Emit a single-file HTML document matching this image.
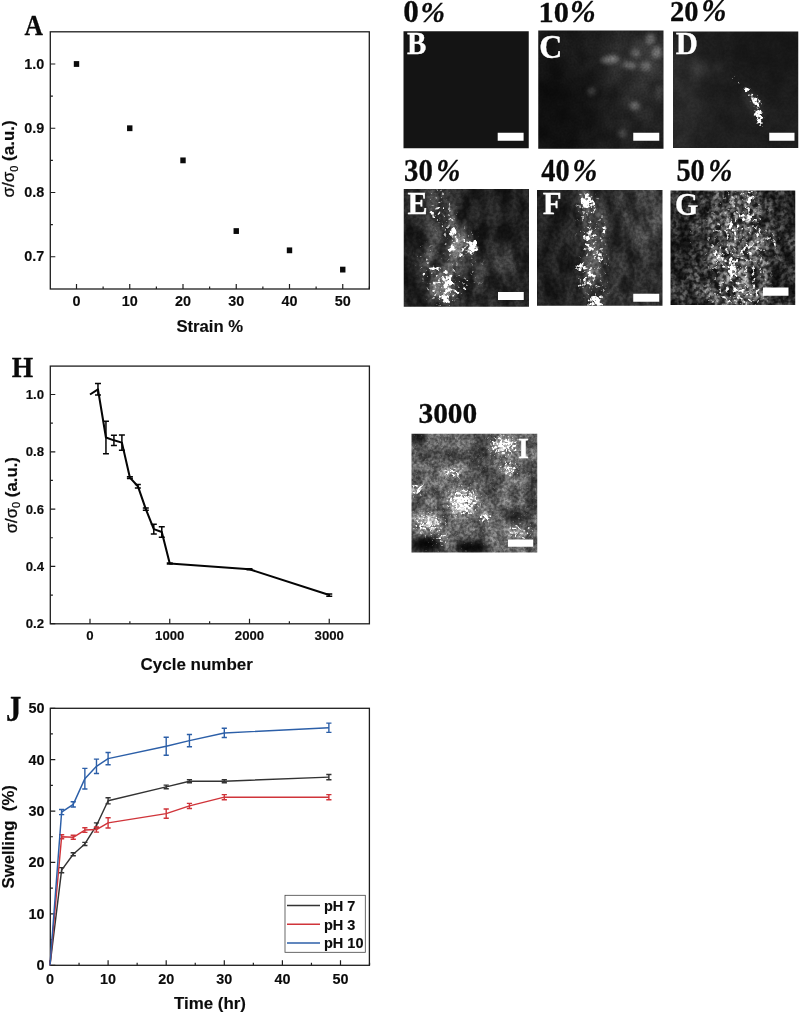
<!DOCTYPE html>
<html lang="en">
<head>
<meta charset="utf-8">
<title>Figure: strain, cycling and swelling</title>
<style>
html,body{margin:0;padding:0;background:#fff;}
body{width:800px;height:1014px;overflow:hidden;font-family:"Liberation Sans", Arial, Helvetica, sans-serif;}
svg{display:block;}
text{white-space:pre;}
</style>
</head>
<body>
<svg width="800" height="1014" viewBox="0 0 800 1014">
<rect width="800" height="1014" fill="#fff"/>
<defs><clipPath id="c1"><rect x="403.5" y="31.3" width="125.25" height="117"/></clipPath>
<clipPath id="c2"><rect x="538.25" y="30.5" width="125.25" height="118.25"/></clipPath>
<filter id="t3" x="0" y="0" width="100%" height="100%" color-interpolation-filters="sRGB"><feTurbulence type="fractalNoise" baseFrequency="0.05" numOctaves="2" seed="3" result="n0"/><feColorMatrix in="n0" type="matrix" values="2.5 0 0 0 -0.75  2.5 0 0 0 -0.75  2.5 0 0 0 -0.75  0 0 0 0 1" result="g0"/><feComposite in="SourceGraphic" in2="g0" operator="arithmetic" k1="0.4" k2="0.8" k3="0" k4="0" result="r0"/><feTurbulence type="fractalNoise" baseFrequency="0.5" numOctaves="2" seed="4" result="n1"/><feColorMatrix in="n1" type="matrix" values="2.5 0 0 0 -0.75  2.5 0 0 0 -0.75  2.5 0 0 0 -0.75  0 0 0 0 1" result="g1"/><feComposite in="r0" in2="g1" operator="arithmetic" k1="0.2" k2="0.9" k3="0" k4="0" result="r1"/></filter>
<filter id="b4" filterUnits="userSpaceOnUse" x="492.25" y="-15.5" width="217.25" height="210.25" color-interpolation-filters="sRGB"><feGaussianBlur stdDeviation="14"/></filter>
<filter id="b5" filterUnits="userSpaceOnUse" x="498.25" y="-9.5" width="205.25" height="198.25" color-interpolation-filters="sRGB"><feGaussianBlur stdDeviation="12"/></filter>
<filter id="b6" filterUnits="userSpaceOnUse" x="486.25" y="-21.5" width="229.25" height="222.25" color-interpolation-filters="sRGB"><feGaussianBlur stdDeviation="16"/></filter>
<filter id="b7" filterUnits="userSpaceOnUse" x="528.25" y="20.5" width="145.25" height="138.25" color-interpolation-filters="sRGB"><feGaussianBlur stdDeviation="2"/></filter>
<filter id="b8" filterUnits="userSpaceOnUse" x="527.65" y="19.9" width="146.45" height="139.45" color-interpolation-filters="sRGB"><feGaussianBlur stdDeviation="2.2"/></filter>
<filter id="b9" filterUnits="userSpaceOnUse" x="526.75" y="19" width="148.25" height="141.25" color-interpolation-filters="sRGB"><feGaussianBlur stdDeviation="2.5"/></filter>
<clipPath id="c10"><rect x="673" y="31.5" width="125.25" height="116.5"/></clipPath>
<filter id="t11" x="0" y="0" width="100%" height="100%" color-interpolation-filters="sRGB"><feTurbulence type="fractalNoise" baseFrequency="0.06" numOctaves="3" seed="4" result="n0"/><feColorMatrix in="n0" type="matrix" values="2.5 0 0 0 -0.75  2.5 0 0 0 -0.75  2.5 0 0 0 -0.75  0 0 0 0 1" result="g0"/><feComposite in="SourceGraphic" in2="g0" operator="arithmetic" k1="0.2" k2="0.9" k3="0" k4="0" result="r0"/><feTurbulence type="fractalNoise" baseFrequency="0.4" numOctaves="2" seed="5" result="n1"/><feColorMatrix in="n1" type="matrix" values="3 0 0 0 -1  3 0 0 0 -1  3 0 0 0 -1  0 0 0 0 1" result="g1"/><feComposite in="r0" in2="g1" operator="arithmetic" k1="0.12" k2="0.94" k3="0" k4="0" result="r1"/><feGaussianBlur in="r1" stdDeviation="0.45"/></filter>
<filter id="b12" filterUnits="userSpaceOnUse" x="633" y="-8.5" width="205.25" height="196.5" color-interpolation-filters="sRGB"><feGaussianBlur stdDeviation="12"/></filter>
<filter id="b13" filterUnits="userSpaceOnUse" x="657" y="15.5" width="157.25" height="148.5" color-interpolation-filters="sRGB"><feGaussianBlur stdDeviation="4"/></filter>
<filter id="b14" filterUnits="userSpaceOnUse" x="660" y="18.5" width="151.25" height="142.5" color-interpolation-filters="sRGB"><feGaussianBlur stdDeviation="3"/></filter>
<filter id="b15" filterUnits="userSpaceOnUse" x="639" y="-2.5" width="193.25" height="184.5" color-interpolation-filters="sRGB"><feGaussianBlur stdDeviation="10"/></filter>
<filter id="s16" x="0" y="0" width="100%" height="100%" color-interpolation-filters="sRGB"><feTurbulence type="fractalNoise" baseFrequency="0.35" numOctaves="3" seed="5" result="n"/><feColorMatrix in="n" type="matrix" values="0 0 0 0 1  0 0 0 0 1  0 0 0 0 1  2.0 0 0 0 -0.5" result="na"/><feComposite in="SourceGraphic" in2="na" operator="arithmetic" k1="0" k2="2.2" k3="2.2" k4="-2.2" result="r"/><feGaussianBlur in="r" stdDeviation="0.6"/></filter>
<filter id="b17" filterUnits="userSpaceOnUse" x="664.5" y="23" width="142.25" height="133.5" color-interpolation-filters="sRGB"><feGaussianBlur stdDeviation="1.5"/></filter>
<filter id="b18" filterUnits="userSpaceOnUse" x="664.2" y="22.7" width="142.85" height="134.1" color-interpolation-filters="sRGB"><feGaussianBlur stdDeviation="1.6"/></filter>
<filter id="b19" filterUnits="userSpaceOnUse" x="665.4" y="23.9" width="140.45" height="131.7" color-interpolation-filters="sRGB"><feGaussianBlur stdDeviation="1.2"/></filter>
<filter id="b20" filterUnits="userSpaceOnUse" x="666" y="24.5" width="139.25" height="130.5" color-interpolation-filters="sRGB"><feGaussianBlur stdDeviation="1"/></filter>
<clipPath id="c21"><rect x="403.75" y="189.1" width="125.25" height="117.65"/></clipPath>
<filter id="t22" x="0" y="0" width="100%" height="100%" color-interpolation-filters="sRGB"><feTurbulence type="fractalNoise" baseFrequency="0.08 0.04" numOctaves="3" seed="7" result="n0"/><feColorMatrix in="n0" type="matrix" values="2.4 0 0 0 -0.7  2.4 0 0 0 -0.7  2.4 0 0 0 -0.7  0 0 0 0 1" result="g0"/><feComposite in="SourceGraphic" in2="g0" operator="arithmetic" k1="0.9" k2="0.55" k3="0" k4="0" result="r0"/><feTurbulence type="fractalNoise" baseFrequency="0.3" numOctaves="2" seed="8" result="n1"/><feColorMatrix in="n1" type="matrix" values="3 0 0 0 -1  3 0 0 0 -1  3 0 0 0 -1  0 0 0 0 1" result="g1"/><feComposite in="r0" in2="g1" operator="arithmetic" k1="0.35" k2="0.82" k3="0" k4="0" result="r1"/><feGaussianBlur in="r1" stdDeviation="0.45"/></filter>
<filter id="b23" filterUnits="userSpaceOnUse" x="369.75" y="155.1" width="193.25" height="185.65" color-interpolation-filters="sRGB"><feGaussianBlur stdDeviation="10"/></filter>
<filter id="b24" filterUnits="userSpaceOnUse" x="375.75" y="161.1" width="181.25" height="173.65" color-interpolation-filters="sRGB"><feGaussianBlur stdDeviation="8"/></filter>
<filter id="b25" filterUnits="userSpaceOnUse" x="372.75" y="158.1" width="187.25" height="179.65" color-interpolation-filters="sRGB"><feGaussianBlur stdDeviation="9"/></filter>
<filter id="b26" filterUnits="userSpaceOnUse" x="387.75" y="173.1" width="157.25" height="149.65" color-interpolation-filters="sRGB"><feGaussianBlur stdDeviation="4"/></filter>
<filter id="b27" filterUnits="userSpaceOnUse" x="384.75" y="170.1" width="163.25" height="155.65" color-interpolation-filters="sRGB"><feGaussianBlur stdDeviation="5"/></filter>
<filter id="s28" x="0" y="0" width="100%" height="100%" color-interpolation-filters="sRGB"><feTurbulence type="fractalNoise" baseFrequency="0.27" numOctaves="3" seed="8" result="n"/><feColorMatrix in="n" type="matrix" values="0 0 0 0 1  0 0 0 0 1  0 0 0 0 1  2.0 0 0 0 -0.5" result="na"/><feComposite in="SourceGraphic" in2="na" operator="arithmetic" k1="0" k2="3" k3="3" k4="-3" result="r"/><feGaussianBlur in="r" stdDeviation="0.6"/></filter>
<filter id="b29" filterUnits="userSpaceOnUse" x="395.25" y="180.6" width="142.25" height="134.65" color-interpolation-filters="sRGB"><feGaussianBlur stdDeviation="1.5"/></filter>
<filter id="b30" filterUnits="userSpaceOnUse" x="394.35" y="179.7" width="144.05" height="136.45" color-interpolation-filters="sRGB"><feGaussianBlur stdDeviation="1.8"/></filter>
<filter id="b31" filterUnits="userSpaceOnUse" x="396.15" y="181.5" width="140.45" height="132.85" color-interpolation-filters="sRGB"><feGaussianBlur stdDeviation="1.2"/></filter>
<filter id="b32" filterUnits="userSpaceOnUse" x="393.75" y="179.1" width="145.25" height="137.65" color-interpolation-filters="sRGB"><feGaussianBlur stdDeviation="2"/></filter>
<filter id="b33" filterUnits="userSpaceOnUse" x="397.35" y="182.7" width="138.05" height="130.45" color-interpolation-filters="sRGB"><feGaussianBlur stdDeviation="0.8"/></filter>
<clipPath id="c34"><rect x="537" y="190" width="125.5" height="115.75"/></clipPath>
<filter id="t35" x="0" y="0" width="100%" height="100%" color-interpolation-filters="sRGB"><feTurbulence type="fractalNoise" baseFrequency="0.08 0.04" numOctaves="3" seed="21" result="n0"/><feColorMatrix in="n0" type="matrix" values="2.4 0 0 0 -0.7  2.4 0 0 0 -0.7  2.4 0 0 0 -0.7  0 0 0 0 1" result="g0"/><feComposite in="SourceGraphic" in2="g0" operator="arithmetic" k1="0.8" k2="0.6" k3="0" k4="0" result="r0"/><feTurbulence type="fractalNoise" baseFrequency="0.3" numOctaves="2" seed="22" result="n1"/><feColorMatrix in="n1" type="matrix" values="3 0 0 0 -1  3 0 0 0 -1  3 0 0 0 -1  0 0 0 0 1" result="g1"/><feComposite in="r0" in2="g1" operator="arithmetic" k1="0.35" k2="0.82" k3="0" k4="0" result="r1"/><feGaussianBlur in="r1" stdDeviation="0.45"/></filter>
<filter id="b36" filterUnits="userSpaceOnUse" x="506" y="159" width="187.5" height="177.75" color-interpolation-filters="sRGB"><feGaussianBlur stdDeviation="9"/></filter>
<filter id="b37" filterUnits="userSpaceOnUse" x="503" y="156" width="193.5" height="183.75" color-interpolation-filters="sRGB"><feGaussianBlur stdDeviation="10"/></filter>
<filter id="b38" filterUnits="userSpaceOnUse" x="515" y="168" width="169.5" height="159.75" color-interpolation-filters="sRGB"><feGaussianBlur stdDeviation="6"/></filter>
<filter id="b39" filterUnits="userSpaceOnUse" x="521" y="174" width="157.5" height="147.75" color-interpolation-filters="sRGB"><feGaussianBlur stdDeviation="4"/></filter>
<filter id="s40" x="0" y="0" width="100%" height="100%" color-interpolation-filters="sRGB"><feTurbulence type="fractalNoise" baseFrequency="0.27" numOctaves="3" seed="22" result="n"/><feColorMatrix in="n" type="matrix" values="0 0 0 0 1  0 0 0 0 1  0 0 0 0 1  2.0 0 0 0 -0.5" result="na"/><feComposite in="SourceGraphic" in2="na" operator="arithmetic" k1="0" k2="3" k3="3" k4="-3" result="r"/><feGaussianBlur in="r" stdDeviation="0.6"/></filter>
<filter id="b41" filterUnits="userSpaceOnUse" x="518" y="171" width="163.5" height="153.75" color-interpolation-filters="sRGB"><feGaussianBlur stdDeviation="5"/></filter>
<filter id="b42" filterUnits="userSpaceOnUse" x="526.4" y="179.4" width="146.7" height="136.95" color-interpolation-filters="sRGB"><feGaussianBlur stdDeviation="2.2"/></filter>
<filter id="b43" filterUnits="userSpaceOnUse" x="527.6" y="180.6" width="144.3" height="134.55" color-interpolation-filters="sRGB"><feGaussianBlur stdDeviation="1.8"/></filter>
<filter id="b44" filterUnits="userSpaceOnUse" x="528.2" y="181.2" width="143.1" height="133.35" color-interpolation-filters="sRGB"><feGaussianBlur stdDeviation="1.6"/></filter>
<filter id="b45" filterUnits="userSpaceOnUse" x="529.4" y="182.4" width="140.7" height="130.95" color-interpolation-filters="sRGB"><feGaussianBlur stdDeviation="1.2"/></filter>
<filter id="b46" filterUnits="userSpaceOnUse" x="528.8" y="181.8" width="141.9" height="132.15" color-interpolation-filters="sRGB"><feGaussianBlur stdDeviation="1.4"/></filter>
<filter id="b47" filterUnits="userSpaceOnUse" x="527" y="180" width="145.5" height="135.75" color-interpolation-filters="sRGB"><feGaussianBlur stdDeviation="2"/></filter>
<clipPath id="c48"><rect x="670.5" y="190.5" width="124.75" height="114.5"/></clipPath>
<filter id="t49" x="0" y="0" width="100%" height="100%" color-interpolation-filters="sRGB"><feTurbulence type="fractalNoise" baseFrequency="0.1 0.06" numOctaves="3" seed="41" result="n0"/><feColorMatrix in="n0" type="matrix" values="2.5 0 0 0 -0.75  2.5 0 0 0 -0.75  2.5 0 0 0 -0.75  0 0 0 0 1" result="g0"/><feComposite in="SourceGraphic" in2="g0" operator="arithmetic" k1="1.1" k2="0.45" k3="0" k4="0" result="r0"/><feTurbulence type="fractalNoise" baseFrequency="0.26" numOctaves="2" seed="42" result="n1"/><feColorMatrix in="n1" type="matrix" values="3 0 0 0 -1  3 0 0 0 -1  3 0 0 0 -1  0 0 0 0 1" result="g1"/><feComposite in="r0" in2="g1" operator="arithmetic" k1="1" k2="0.5" k3="0" k4="0" result="r1"/><feGaussianBlur in="r1" stdDeviation="0.45"/></filter>
<filter id="b50" filterUnits="userSpaceOnUse" x="642.5" y="162.5" width="180.75" height="170.5" color-interpolation-filters="sRGB"><feGaussianBlur stdDeviation="8"/></filter>
<filter id="b51" filterUnits="userSpaceOnUse" x="648.5" y="168.5" width="168.75" height="158.5" color-interpolation-filters="sRGB"><feGaussianBlur stdDeviation="6"/></filter>
<filter id="b52" filterUnits="userSpaceOnUse" x="639.5" y="159.5" width="186.75" height="176.5" color-interpolation-filters="sRGB"><feGaussianBlur stdDeviation="9"/></filter>
<filter id="s53" x="0" y="0" width="100%" height="100%" color-interpolation-filters="sRGB"><feTurbulence type="fractalNoise" baseFrequency="0.27" numOctaves="3" seed="43" result="n"/><feColorMatrix in="n" type="matrix" values="0 0 0 0 1  0 0 0 0 1  0 0 0 0 1  2.0 0 0 0 -0.5" result="na"/><feComposite in="SourceGraphic" in2="na" operator="arithmetic" k1="0" k2="3" k3="3" k4="-3" result="r"/><feGaussianBlur in="r" stdDeviation="0.6"/></filter>
<filter id="b54" filterUnits="userSpaceOnUse" x="651.5" y="171.5" width="162.75" height="152.5" color-interpolation-filters="sRGB"><feGaussianBlur stdDeviation="5"/></filter>
<filter id="b55" filterUnits="userSpaceOnUse" x="660.5" y="180.5" width="144.75" height="134.5" color-interpolation-filters="sRGB"><feGaussianBlur stdDeviation="2"/></filter>
<filter id="b56" filterUnits="userSpaceOnUse" x="659.9" y="179.9" width="145.95" height="135.7" color-interpolation-filters="sRGB"><feGaussianBlur stdDeviation="2.2"/></filter>
<filter id="b57" filterUnits="userSpaceOnUse" x="661.1" y="181.1" width="143.55" height="133.3" color-interpolation-filters="sRGB"><feGaussianBlur stdDeviation="1.8"/></filter>
<filter id="b58" filterUnits="userSpaceOnUse" x="659" y="179" width="147.75" height="137.5" color-interpolation-filters="sRGB"><feGaussianBlur stdDeviation="2.5"/></filter>
<filter id="b59" filterUnits="userSpaceOnUse" x="662.9" y="182.9" width="139.95" height="129.7" color-interpolation-filters="sRGB"><feGaussianBlur stdDeviation="1.2"/></filter>
<filter id="b60" filterUnits="userSpaceOnUse" x="662" y="182" width="141.75" height="131.5" color-interpolation-filters="sRGB"><feGaussianBlur stdDeviation="1.5"/></filter>
<clipPath id="c61"><rect x="411.5" y="433.75" width="125.75" height="118.75"/></clipPath>
<filter id="t62" x="0" y="0" width="100%" height="100%" color-interpolation-filters="sRGB"><feTurbulence type="fractalNoise" baseFrequency="0.08" numOctaves="3" seed="61" result="n0"/><feColorMatrix in="n0" type="matrix" values="2.5 0 0 0 -0.75  2.5 0 0 0 -0.75  2.5 0 0 0 -0.75  0 0 0 0 1" result="g0"/><feComposite in="SourceGraphic" in2="g0" operator="arithmetic" k1="0.6" k2="0.7" k3="0" k4="0" result="r0"/><feTurbulence type="fractalNoise" baseFrequency="0.35" numOctaves="2" seed="62" result="n1"/><feColorMatrix in="n1" type="matrix" values="2.5 0 0 0 -0.75  2.5 0 0 0 -0.75  2.5 0 0 0 -0.75  0 0 0 0 1" result="g1"/><feComposite in="r0" in2="g1" operator="arithmetic" k1="0.5" k2="0.75" k3="0" k4="0" result="r1"/><feGaussianBlur in="r1" stdDeviation="0.45"/></filter>
<filter id="b63" filterUnits="userSpaceOnUse" x="398.5" y="420.75" width="151.75" height="144.75" color-interpolation-filters="sRGB"><feGaussianBlur stdDeviation="3"/></filter>
<filter id="b64" filterUnits="userSpaceOnUse" x="392.5" y="414.75" width="163.75" height="156.75" color-interpolation-filters="sRGB"><feGaussianBlur stdDeviation="5"/></filter>
<filter id="b65" filterUnits="userSpaceOnUse" x="397" y="419.25" width="154.75" height="147.75" color-interpolation-filters="sRGB"><feGaussianBlur stdDeviation="3.5"/></filter>
<filter id="b66" filterUnits="userSpaceOnUse" x="395.5" y="417.75" width="157.75" height="150.75" color-interpolation-filters="sRGB"><feGaussianBlur stdDeviation="4"/></filter>
<filter id="s67" x="0" y="0" width="100%" height="100%" color-interpolation-filters="sRGB"><feTurbulence type="fractalNoise" baseFrequency="0.4" numOctaves="3" seed="63" result="n"/><feColorMatrix in="n" type="matrix" values="0 0 0 0 1  0 0 0 0 1  0 0 0 0 1  2.0 0 0 0 -0.5" result="na"/><feComposite in="SourceGraphic" in2="na" operator="arithmetic" k1="0" k2="3" k3="3" k4="-2.85" result="r"/><feGaussianBlur in="r" stdDeviation="0.6"/></filter>
<filter id="b68" filterUnits="userSpaceOnUse" x="400" y="422.25" width="148.75" height="141.75" color-interpolation-filters="sRGB"><feGaussianBlur stdDeviation="2.5"/></filter></defs>
<rect x="50.3" y="31.8" width="319" height="257.2" fill="none" stroke="#1e1e1e" stroke-width="1.3"/>
<path d="M76.5 289v-5M129.75 289v-5M183 289v-5M236.25 289v-5M289.5 289v-5M342.75 289v-5M103.12 289v-2.6M156.38 289v-2.6M209.62 289v-2.6M262.88 289v-2.6M316.12 289v-2.6M369.38 289v-2.6M50.3 256.75h5M50.3 192.5h5M50.3 128.25h5M50.3 64h5M50.3 224.62h2.6M50.3 160.38h2.6M50.3 96.13h2.6" fill="none" stroke="#1e1e1e" stroke-width="1.2"/>
<g font-family='"Liberation Sans", Arial, Helvetica, sans-serif' font-weight="700" font-size="14.4" fill="#0c0c0c" stroke="#0c0c0c" stroke-width="0.14">
<text x="76.5" y="306" text-anchor="middle">0</text>
<text x="129.75" y="306" text-anchor="middle">10</text>
<text x="183" y="306" text-anchor="middle">20</text>
<text x="236.25" y="306" text-anchor="middle">30</text>
<text x="289.5" y="306" text-anchor="middle">40</text>
<text x="342.75" y="306" text-anchor="middle">50</text>
<text x="44.3" y="261.35" text-anchor="end">0.7</text>
<text x="44.3" y="197.1" text-anchor="end">0.8</text>
<text x="44.3" y="132.85" text-anchor="end">0.9</text>
<text x="44.3" y="68.6" text-anchor="end">1.0</text>
</g>
<text x="209.8" y="332.3" text-anchor="middle" font-family='"Liberation Sans", Arial, Helvetica, sans-serif' font-weight="700" font-size="16.7" fill="#0c0c0c" stroke="#0c0c0c" stroke-width="0.14">Strain %</text>
<text transform="translate(14.3 158.9) rotate(-90)" text-anchor="middle" font-family='"Liberation Sans", Arial, Helvetica, sans-serif' font-weight="700" font-size="17" fill="#0c0c0c" stroke="#0c0c0c" stroke-width="0.14"><tspan font-weight="400" stroke-width="0.3">σ/σ</tspan><tspan font-weight="400" font-size="11" dy="3.5" stroke-width="0.25">0</tspan><tspan dy="-3.5"> (a.u.)</tspan></text>
<rect x="73.8" y="61.1" width="5.4" height="5.8" fill="#0a0a0a"/>
<rect x="127.05" y="125.35" width="5.4" height="5.8" fill="#0a0a0a"/>
<rect x="180.3" y="157.47" width="5.4" height="5.8" fill="#0a0a0a"/>
<rect x="233.55" y="228.15" width="5.4" height="5.8" fill="#0a0a0a"/>
<rect x="286.8" y="247.43" width="5.4" height="5.8" fill="#0a0a0a"/>
<rect x="340.05" y="266.7" width="5.4" height="5.8" fill="#0a0a0a"/>
<text transform="translate(24.49 35.25) scale(0.851 0.985)" font-family='"Liberation Serif", "Times New Roman", serif' font-weight="700" font-size="30" fill="#0a0a0a" stroke="#0a0a0a" stroke-width="0.3" stroke-linejoin="round">A</text>
<rect x="50.3" y="366.1" width="319.1" height="257.7" fill="none" stroke="#1e1e1e" stroke-width="1.3"/>
<path d="M90 623.8v-5M169.75 623.8v-5M249.5 623.8v-5M329.25 623.8v-5M129.88 623.8v-2.6M209.62 623.8v-2.6M289.38 623.8v-2.6M50.3 623.7h5M50.3 566.4h5M50.3 509.1h5M50.3 451.8h5M50.3 394.5h5M50.3 595.05h2.6M50.3 537.75h2.6M50.3 480.45h2.6M50.3 423.15h2.6" fill="none" stroke="#1e1e1e" stroke-width="1.2"/>
<g font-family='"Liberation Sans", Arial, Helvetica, sans-serif' font-weight="700" font-size="13.2" fill="#0c0c0c" stroke="#0c0c0c" stroke-width="0.14">
<text x="90" y="639.9" text-anchor="middle">0</text>
<text x="169.75" y="639.9" text-anchor="middle">1000</text>
<text x="249.5" y="639.9" text-anchor="middle">2000</text>
<text x="329.25" y="639.9" text-anchor="middle">3000</text>
<text x="44.1" y="628.3" text-anchor="end">0.2</text>
<text x="44.1" y="571" text-anchor="end">0.4</text>
<text x="44.1" y="513.7" text-anchor="end">0.6</text>
<text x="44.1" y="456.4" text-anchor="end">0.8</text>
<text x="44.1" y="399.1" text-anchor="end">1.0</text>
</g>
<text x="196.7" y="670.3" text-anchor="middle" font-family='"Liberation Sans", Arial, Helvetica, sans-serif' font-weight="700" font-size="17.0" fill="#0c0c0c" stroke="#0c0c0c" stroke-width="0.14">Cycle number</text>
<text transform="translate(16.5 495.2) rotate(-90)" text-anchor="middle" font-family='"Liberation Sans", Arial, Helvetica, sans-serif' font-weight="700" font-size="16.8" fill="#0c0c0c" stroke="#0c0c0c" stroke-width="0.14"><tspan font-weight="400" stroke-width="0.3">σ/σ</tspan><tspan font-weight="400" font-size="11" dy="3.5" stroke-width="0.25">0</tspan><tspan dy="-3.5"> (a.u.)</tspan></text>
<polyline points="90,394.5 97.97,389.34 105.95,437.48 113.92,440.34 121.9,442.63 129.88,477.59 137.85,486.18 145.82,509.1 153.8,529.15 161.78,532.02 169.75,563.54 249.5,569.26 329.25,595.05" fill="none" stroke="#050505" stroke-width="2.05" stroke-linejoin="round"/>
<path d="M97.97 383.61V395.07M94.97 383.61h6M94.97 395.07h6M105.95 421.14V453.81M102.95 421.14h6M102.95 453.81h6M113.92 435.18V445.5M110.92 435.18h6M110.92 445.5h6M121.9 434.9V450.37M118.9 434.9h6M118.9 450.37h6M129.88 476.73V478.44M126.88 476.73h6M126.88 478.44h6M137.85 484.46V487.9M134.85 484.46h6M134.85 487.9h6M145.82 507.95V510.25M142.82 507.95h6M142.82 510.25h6M153.8 524.28V534.03M150.8 524.28h6M150.8 534.03h6M161.78 526.86V537.18M158.78 526.86h6M158.78 537.18h6M169.75 562.96V564.11M166.75 562.96h6M166.75 564.11h6M249.5 568.69V569.84M246.5 568.69h6M246.5 569.84h6M329.25 593.9V596.2M326.25 593.9h6M326.25 596.2h6" fill="none" stroke="#050505" stroke-width="1.5"/>
<text transform="translate(11.78 377.1) scale(0.918 0.977)" font-family='"Liberation Serif", "Times New Roman", serif' font-weight="700" font-size="30" fill="#0a0a0a" stroke="#0a0a0a" stroke-width="0.3" stroke-linejoin="round">H</text>
<rect x="50.3" y="708.3" width="319.1" height="257" fill="none" stroke="#1e1e1e" stroke-width="1.3"/>
<path d="M50 965.3v-5M108.1 965.3v-5M166.2 965.3v-5M224.3 965.3v-5M282.4 965.3v-5M340.5 965.3v-5M79.05 965.3v-2.6M137.15 965.3v-2.6M195.25 965.3v-2.6M253.35 965.3v-2.6M311.45 965.3v-2.6M369.55 965.3v-2.6M50.3 965.25h5M50.3 913.85h5M50.3 862.45h5M50.3 811.05h5M50.3 759.65h5M50.3 708.25h5M50.3 939.55h2.6M50.3 888.15h2.6M50.3 836.75h2.6M50.3 785.35h2.6M50.3 733.95h2.6" fill="none" stroke="#1e1e1e" stroke-width="1.2"/>
<g font-family='"Liberation Sans", Arial, Helvetica, sans-serif' font-weight="700" font-size="14.4" fill="#0c0c0c" stroke="#0c0c0c" stroke-width="0.14">
<text x="50" y="983.5" text-anchor="middle">0</text>
<text x="108.1" y="983.5" text-anchor="middle">10</text>
<text x="166.2" y="983.5" text-anchor="middle">20</text>
<text x="224.3" y="983.5" text-anchor="middle">30</text>
<text x="282.4" y="983.5" text-anchor="middle">40</text>
<text x="340.5" y="983.5" text-anchor="middle">50</text>
<text x="44.6" y="970.25" text-anchor="end">0</text>
<text x="44.6" y="918.85" text-anchor="end">10</text>
<text x="44.6" y="867.45" text-anchor="end">20</text>
<text x="44.6" y="816.05" text-anchor="end">30</text>
<text x="44.6" y="764.65" text-anchor="end">40</text>
<text x="44.6" y="713.25" text-anchor="end">50</text>
</g>
<text x="210" y="1008.6" text-anchor="middle" font-family='"Liberation Sans", Arial, Helvetica, sans-serif' font-weight="700" font-size="16.9" fill="#0c0c0c" stroke="#0c0c0c" stroke-width="0.14">Time (hr)</text>
<text transform="translate(13.6 836.8) rotate(-90)" text-anchor="middle" font-family='"Liberation Sans", Arial, Helvetica, sans-serif' font-weight="700" font-size="16.8" fill="#0c0c0c" stroke="#0c0c0c" stroke-width="0.14">Swelling&#160; (%)</text>
<polyline points="50,965.25 61.62,870.16 73.24,854.23 84.86,843.95 96.48,825.44 108.1,800.77 166.2,786.89 189.44,781.24 224.3,781.24 328.88,777.13" fill="none" stroke="#333333" stroke-width="1.45" stroke-linejoin="round"/>
<path d="M61.62 867.59V872.73M59.02 867.59h5.2M59.02 872.73h5.2M73.24 852.68V855.77M70.64 852.68h5.2M70.64 855.77h5.2M84.86 842.4V845.49M82.26 842.4h5.2M82.26 845.49h5.2M96.48 822.87V828.01M93.88 822.87h5.2M93.88 828.01h5.2M108.1 797.69V803.85M105.5 797.69h5.2M105.5 803.85h5.2M166.2 785.09V788.69M163.6 785.09h5.2M163.6 788.69h5.2M189.44 779.7V782.78M186.84 779.7h5.2M186.84 782.78h5.2M224.3 779.7V782.78M221.7 779.7h5.2M221.7 782.78h5.2M328.88 774.56V779.7M326.28 774.56h5.2M326.28 779.7h5.2" fill="none" stroke="#333333" stroke-width="1.4"/>
<polyline points="50,965.25 61.62,836.75 73.24,837.26 84.86,830.07 96.48,829.55 108.1,822.87 166.2,813.62 189.44,805.91 224.3,797.17 328.88,797.17" fill="none" stroke="#d0343a" stroke-width="1.45" stroke-linejoin="round"/>
<path d="M61.62 834.69V838.81M59.02 834.69h5.2M59.02 838.81h5.2M73.24 835.21V839.32M70.64 835.21h5.2M70.64 839.32h5.2M84.86 827.75V832.38M82.26 827.75h5.2M82.26 832.38h5.2M96.48 826.98V832.12M93.88 826.98h5.2M93.88 832.12h5.2M108.1 817.73V828.01M105.5 817.73h5.2M105.5 828.01h5.2M166.2 808.99V818.25M163.6 808.99h5.2M163.6 818.25h5.2M189.44 803.34V808.48M186.84 803.34h5.2M186.84 808.48h5.2M224.3 794.6V799.74M221.7 794.6h5.2M221.7 799.74h5.2M328.88 794.6V799.74M326.28 794.6h5.2M326.28 799.74h5.2" fill="none" stroke="#d0343a" stroke-width="1.4"/>
<polyline points="50,965.25 61.62,812.08 73.24,804.37 84.86,778.67 96.48,766.33 108.1,758.62 166.2,746.29 189.44,740.63 224.3,732.92 328.88,727.78" fill="none" stroke="#2c5fa8" stroke-width="1.45" stroke-linejoin="round"/>
<path d="M61.62 809.51V814.65M59.02 809.51h5.2M59.02 814.65h5.2M73.24 801.8V806.94M70.64 801.8h5.2M70.64 806.94h5.2M84.86 768.39V788.95M82.26 768.39h5.2M82.26 788.95h5.2M96.48 759.14V773.53M93.88 759.14h5.2M93.88 773.53h5.2M108.1 752.45V764.79M105.5 752.45h5.2M105.5 764.79h5.2M166.2 737.29V755.28M163.6 737.29h5.2M163.6 755.28h5.2M189.44 734.46V746.8M186.84 734.46h5.2M186.84 746.8h5.2M224.3 728.3V737.55M221.7 728.3h5.2M221.7 737.55h5.2M328.88 723.16V732.41M326.28 723.16h5.2M326.28 732.41h5.2" fill="none" stroke="#2c5fa8" stroke-width="1.4"/>
<rect x="285" y="895.3" width="80.3" height="57" fill="#fff" stroke="#444" stroke-width="0.8"/>
<path d="M287 905.5H320" stroke="#333333" stroke-width="1.5"/>
<text x="324" y="910.8" font-family='"Liberation Sans", Arial, Helvetica, sans-serif' font-weight="700" font-size="14.5" fill="#0c0c0c" stroke="#0c0c0c" stroke-width="0.14">pH 7</text>
<path d="M287 924.25H320" stroke="#d0343a" stroke-width="1.5"/>
<text x="324" y="929.55" font-family='"Liberation Sans", Arial, Helvetica, sans-serif' font-weight="700" font-size="14.5" fill="#0c0c0c" stroke="#0c0c0c" stroke-width="0.14">pH 3</text>
<path d="M287 943H320" stroke="#2c5fa8" stroke-width="1.5"/>
<text x="324" y="948.3" font-family='"Liberation Sans", Arial, Helvetica, sans-serif' font-weight="700" font-size="14.5" fill="#0c0c0c" stroke="#0c0c0c" stroke-width="0.14">pH 10</text>
<text transform="translate(6.1 721) scale(1.026 1.168)" font-family='"Liberation Serif", "Times New Roman", serif' font-weight="700" font-size="30" fill="#0a0a0a" stroke="#0a0a0a" stroke-width="0.3" stroke-linejoin="round">J</text>
<g clip-path="url(#c1)">
<rect x="401.5" y="29.3" width="129.25" height="121" fill="#141414"/>
</g>
<rect x="497.7" y="132.75" width="25.9" height="8" fill="#fff"/>
<text transform="translate(407.11 54.01) scale(0.967 1.023)" font-family='"Liberation Serif", "Times New Roman", serif' font-weight="700" font-size="30" fill="#fff" stroke="#fff" stroke-width="0.3" stroke-linejoin="round">B</text>
<text transform="translate(403.17 21.64) scale(1.004 0.989)" font-family='"Liberation Serif", "Times New Roman", serif' font-weight="700" font-size="31" fill="#0a0a0a" stroke="#0a0a0a" stroke-width="0.3" stroke-linejoin="round">0<tspan font-style="italic" font-size="29.2" dx="1.73">%</tspan></text>
<g clip-path="url(#c2)">
<g filter="url(#t3)">
<rect x="536.25" y="28.5" width="129.25" height="122.25" fill="#1a1a1a"/>
<ellipse cx="640.25" cy="58.5" rx="36" ry="32" fill="#fff" opacity="0.11" filter="url(#b4)"/>
<ellipse cx="638.25" cy="110.5" rx="25" ry="30" fill="#fff" opacity="0.05" filter="url(#b5)"/>
<ellipse cx="553.25" cy="110.5" rx="30" ry="50" fill="#000" opacity="0.5" filter="url(#b6)"/>
<g filter="url(#b7)" opacity="0.36"><ellipse cx="610.25" cy="59.5" rx="9" ry="4" transform="rotate(-10 610.25 59.5)" fill="#fff"/></g>
<ellipse cx="629.75" cy="65" rx="6" ry="4" fill="#fff" opacity="0.36" filter="url(#b7)"/>
<ellipse cx="635.25" cy="53.5" rx="5" ry="4" fill="#fff" opacity="0.3" filter="url(#b7)"/>
<g filter="url(#b8)" opacity="0.3"><ellipse cx="650.25" cy="38.5" rx="5" ry="6" transform="rotate(20 650.25 38.5)" fill="#fff"/></g>
<ellipse cx="657.25" cy="52.5" rx="5" ry="6" fill="#fff" opacity="0.28" filter="url(#b8)"/>
<ellipse cx="645.25" cy="66.5" rx="5" ry="5" fill="#fff" opacity="0.24" filter="url(#b8)"/>
<ellipse cx="591.25" cy="91.5" rx="4" ry="4" fill="#fff" opacity="0.2" filter="url(#b7)"/>
<ellipse cx="635.25" cy="105.5" rx="5" ry="4" fill="#fff" opacity="0.25" filter="url(#b7)"/>
<ellipse cx="659.25" cy="92.5" rx="4" ry="7" fill="#fff" opacity="0.2" filter="url(#b9)"/>
<ellipse cx="622.25" cy="133.5" rx="4" ry="4" fill="#fff" opacity="0.14" filter="url(#b7)"/>
</g>
</g>
<rect x="633.25" y="132.75" width="26" height="8" fill="#fff"/>
<text transform="translate(539.29 57.52) scale(1.064 1.089)" font-family='"Liberation Serif", "Times New Roman", serif' font-weight="700" font-size="30" fill="#fff" stroke="#fff" stroke-width="0.3" stroke-linejoin="round">C</text>
<text transform="translate(538.52 22.15) scale(0.98 0.982)" font-family='"Liberation Serif", "Times New Roman", serif' font-weight="700" font-size="31" fill="#0a0a0a" stroke="#0a0a0a" stroke-width="0.3" stroke-linejoin="round">10<tspan font-style="italic" font-size="31.41" dx="1.1">%</tspan></text>
<g clip-path="url(#c10)">
<g filter="url(#t11)">
<rect x="671" y="29.5" width="129.25" height="120.5" fill="#1e1e1e"/>
<ellipse cx="773" cy="51.5" rx="45" ry="35" fill="#000" opacity="0.2" filter="url(#b12)"/>
<ellipse cx="700" cy="68.5" rx="9" ry="8" fill="#fff" opacity="0.1" filter="url(#b13)"/>
<ellipse cx="718" cy="66.5" rx="5" ry="4" fill="#fff" opacity="0.08" filter="url(#b14)"/>
<ellipse cx="678" cy="101.5" rx="25" ry="60" fill="#fff" opacity="0.05" filter="url(#b15)"/>
<g filter="url(#b14)" opacity="0.08"><ellipse cx="753" cy="104.5" rx="7" ry="18" transform="rotate(-28 753 104.5)" fill="#fff"/></g>
</g>
<g filter="url(#s16)">
<rect x="671" y="29.5" width="129.25" height="120.5" fill="#fff" fill-opacity="0"/>
<g filter="url(#b17)" opacity="1"><ellipse cx="756" cy="101.5" rx="4.2" ry="5.5" transform="rotate(-30 756 101.5)" fill="#fff"/></g>
<g filter="url(#b18)" opacity="1"><ellipse cx="758.5" cy="114.5" rx="4.4" ry="7" transform="rotate(-10 758.5 114.5)" fill="#fff"/></g>
<ellipse cx="760" cy="122.5" rx="3" ry="3.5" fill="#fff" opacity="1" filter="url(#b19)"/>
<g filter="url(#b19)" opacity="0.95"><ellipse cx="746.5" cy="89.5" rx="3" ry="3" transform="rotate(-40 746.5 89.5)" fill="#fff"/></g>
<ellipse cx="751" cy="95.5" rx="2.5" ry="3" fill="#fff" opacity="0.7" filter="url(#b19)"/>
<ellipse cx="740" cy="83.5" rx="2.5" ry="2.5" fill="#fff" opacity="0.45" filter="url(#b19)"/>
<ellipse cx="733" cy="77.5" rx="2" ry="2" fill="#fff" opacity="0.3" filter="url(#b20)"/>
</g>
</g>
<rect x="769.25" y="132.75" width="25.25" height="8" fill="#fff"/>
<text transform="translate(675.8 54.04) scale(1.02 1.025)" font-family='"Liberation Serif", "Times New Roman", serif' font-weight="700" font-size="30" fill="#fff" stroke="#fff" stroke-width="0.3" stroke-linejoin="round">D</text>
<text transform="translate(669.95 21.45) scale(0.919 0.97)" font-family='"Liberation Serif", "Times New Roman", serif' font-weight="700" font-size="31" fill="#0a0a0a" stroke="#0a0a0a" stroke-width="0.3" stroke-linejoin="round">20<tspan font-style="italic" font-size="32.81" dx="3.14">%</tspan></text>
<g clip-path="url(#c21)">
<g filter="url(#t22)">
<rect x="401.75" y="187.1" width="129.25" height="121.65" fill="#232323"/>
<ellipse cx="501.75" cy="209.1" rx="35" ry="25" fill="#000" opacity="0.12" filter="url(#b23)"/>
<ellipse cx="415.75" cy="267.1" rx="18" ry="42" fill="#000" opacity="0.15" filter="url(#b24)"/>
<g filter="url(#b25)" opacity="0.12"><ellipse cx="445.75" cy="249.1" rx="22" ry="60" transform="rotate(-10 445.75 249.1)" fill="#fff"/></g>
<ellipse cx="501.75" cy="267.1" rx="14" ry="28" fill="#fff" opacity="0.07" filter="url(#b24)"/>
<g filter="url(#b26)" opacity="0.16"><ellipse cx="443.75" cy="211.1" rx="7" ry="22" transform="rotate(-18 443.75 211.1)" fill="#fff"/></g>
<ellipse cx="460.75" cy="244.1" rx="13" ry="13" fill="#fff" opacity="0.2" filter="url(#b27)"/>
<g filter="url(#b27)" opacity="0.2"><ellipse cx="443.75" cy="285.1" rx="14" ry="18" transform="rotate(8 443.75 285.1)" fill="#fff"/></g>
<ellipse cx="427.75" cy="261.1" rx="6" ry="14" fill="#fff" opacity="0.1" filter="url(#b26)"/>
<g filter="url(#b26)" opacity="0.06"><ellipse cx="478.75" cy="274.1" rx="8" ry="20" transform="rotate(-10 478.75 274.1)" fill="#fff"/></g>
</g>
<g filter="url(#s28)">
<rect x="401.75" y="187.1" width="129.25" height="121.65" fill="#fff" fill-opacity="0"/>
<g filter="url(#b26)" opacity="0.34"><ellipse cx="443.75" cy="214.1" rx="10" ry="26" transform="rotate(-18 443.75 214.1)" fill="#fff"/></g>
<ellipse cx="459.75" cy="244.1" rx="15" ry="15" fill="#fff" opacity="0.34" filter="url(#b27)"/>
<g filter="url(#b27)" opacity="0.34"><ellipse cx="443.75" cy="284.1" rx="17" ry="22" transform="rotate(8 443.75 284.1)" fill="#fff"/></g>
<ellipse cx="425.75" cy="259.1" rx="7" ry="16" fill="#fff" opacity="0.25" filter="url(#b26)"/>
<g filter="url(#b26)" opacity="0.2"><ellipse cx="475.75" cy="269.1" rx="6" ry="18" transform="rotate(-10 475.75 269.1)" fill="#fff"/></g>
<g filter="url(#b29)" opacity="1"><ellipse cx="453.75" cy="232.1" rx="3.2" ry="6" transform="rotate(-10 453.75 232.1)" fill="#fff"/></g>
<ellipse cx="472.75" cy="247.1" rx="5.5" ry="6.5" fill="#fff" opacity="1" filter="url(#b30)"/>
<ellipse cx="451.75" cy="248.1" rx="2.6" ry="3.5" fill="#fff" opacity="1" filter="url(#b31)"/>
<ellipse cx="462.25" cy="253.6" rx="3" ry="3" fill="#fff" opacity="0.85" filter="url(#b31)"/>
<g filter="url(#b32)" opacity="0.9"><ellipse cx="448.25" cy="281.6" rx="5" ry="8" transform="rotate(10 448.25 281.6)" fill="#fff"/></g>
<ellipse cx="444.75" cy="297.1" rx="5" ry="5.5" fill="#fff" opacity="0.95" filter="url(#b30)"/>
<ellipse cx="456.75" cy="292.1" rx="3" ry="4" fill="#fff" opacity="0.7" filter="url(#b29)"/>
<ellipse cx="432.75" cy="215.1" rx="2.5" ry="3.5" fill="#fff" opacity="0.8" filter="url(#b31)"/>
<ellipse cx="423.75" cy="275.1" rx="1.6" ry="1.6" fill="#fff" opacity="1" filter="url(#b33)"/>
<ellipse cx="433.75" cy="269.1" rx="3" ry="5" fill="#fff" opacity="0.6" filter="url(#b29)"/>
<ellipse cx="465.75" cy="285.1" rx="3" ry="6" fill="#fff" opacity="0.5" filter="url(#b29)"/>
</g>
</g>
<rect x="498" y="292" width="25.75" height="8" fill="#fff"/>
<text transform="translate(407.59 214.1) scale(1.004 1.028)" font-family='"Liberation Serif", "Times New Roman", serif' font-weight="700" font-size="30" fill="#fff" stroke="#fff" stroke-width="0.3" stroke-linejoin="round">E</text>
<text transform="translate(404.06 181.14) scale(0.929 0.989)" font-family='"Liberation Serif", "Times New Roman", serif' font-weight="700" font-size="31" fill="#0a0a0a" stroke="#0a0a0a" stroke-width="0.3" stroke-linejoin="round">30<tspan font-style="italic" font-size="31.11" dx="3.7">%</tspan></text>
<g clip-path="url(#c34)">
<g filter="url(#t35)">
<rect x="535" y="188" width="129.5" height="119.75" fill="#262626"/>
<ellipse cx="551" cy="250" rx="22" ry="70" fill="#000" opacity="0.2" filter="url(#b36)"/>
<ellipse cx="645" cy="215" rx="25" ry="35" fill="#fff" opacity="0.13" filter="url(#b37)"/>
<ellipse cx="637" cy="285" rx="25" ry="30" fill="#fff" opacity="0.06" filter="url(#b37)"/>
<g filter="url(#b38)" opacity="0.16"><ellipse cx="593" cy="248" rx="13" ry="62" transform="rotate(-4 593 248)" fill="#fff"/></g>
<ellipse cx="586" cy="203" rx="9" ry="10" fill="#fff" opacity="0.15" filter="url(#b39)"/>
<ellipse cx="589" cy="280" rx="10" ry="14" fill="#fff" opacity="0.12" filter="url(#b39)"/>
</g>
<g filter="url(#s40)">
<rect x="535" y="188" width="129.5" height="119.75" fill="#fff" fill-opacity="0"/>
<g filter="url(#b41)" opacity="0.3"><ellipse cx="593" cy="248" rx="12" ry="64" transform="rotate(-4 593 248)" fill="#fff"/></g>
<ellipse cx="586" cy="202.8" rx="7" ry="8" fill="#fff" opacity="0.9" filter="url(#b42)"/>
<ellipse cx="587.8" cy="236" rx="4" ry="5" fill="#fff" opacity="0.95" filter="url(#b43)"/>
<ellipse cx="600" cy="257" rx="3" ry="5.5" fill="#fff" opacity="0.9" filter="url(#b44)"/>
<ellipse cx="603.5" cy="232.5" rx="1.6" ry="6" fill="#fff" opacity="0.8" filter="url(#b45)"/>
<ellipse cx="589.5" cy="246.5" rx="3" ry="3" fill="#fff" opacity="0.8" filter="url(#b46)"/>
<ellipse cx="580.8" cy="267.5" rx="5" ry="4" fill="#fff" opacity="0.95" filter="url(#b43)"/>
<ellipse cx="589.5" cy="274.5" rx="3" ry="3" fill="#fff" opacity="0.8" filter="url(#b46)"/>
<ellipse cx="584.3" cy="283.3" rx="6" ry="5" fill="#fff" opacity="0.8" filter="url(#b47)"/>
<ellipse cx="594.8" cy="301" rx="8" ry="5" fill="#fff" opacity="0.95" filter="url(#b47)"/>
</g>
</g>
<rect x="633.25" y="293.75" width="26" height="8" fill="#fff"/>
<text transform="translate(542.83 214.35) scale(1.026 1.041)" font-family='"Liberation Serif", "Times New Roman", serif' font-weight="700" font-size="30" fill="#fff" stroke="#fff" stroke-width="0.3" stroke-linejoin="round">F</text>
<text transform="translate(541.35 181.14) scale(0.915 0.989)" font-family='"Liberation Serif", "Times New Roman", serif' font-weight="700" font-size="31" fill="#0a0a0a" stroke="#0a0a0a" stroke-width="0.3" stroke-linejoin="round">40<tspan font-style="italic" font-size="32.88" dx="2.74">%</tspan></text>
<g clip-path="url(#c48)">
<g filter="url(#t49)">
<rect x="668.5" y="188.5" width="128.75" height="118.5" fill="#303030"/>
<ellipse cx="678.5" cy="245.5" rx="13" ry="55" fill="#000" opacity="0.25" filter="url(#b50)"/>
<ellipse cx="786.5" cy="215.5" rx="12" ry="30" fill="#000" opacity="0.3" filter="url(#b50)"/>
<ellipse cx="784.5" cy="278.5" rx="12" ry="22" fill="#000" opacity="0.35" filter="url(#b51)"/>
<ellipse cx="738.5" cy="248.5" rx="34" ry="64" fill="#fff" opacity="0.15" filter="url(#b52)"/>
<ellipse cx="730.5" cy="295.5" rx="45" ry="10" fill="#fff" opacity="0.08" filter="url(#b51)"/>
</g>
<g filter="url(#s53)">
<rect x="668.5" y="188.5" width="128.75" height="118.5" fill="#fff" fill-opacity="0"/>
<ellipse cx="738.5" cy="250.5" rx="30" ry="64" fill="#fff" opacity="0.31" filter="url(#b50)"/>
<ellipse cx="730.5" cy="295.5" rx="40" ry="10" fill="#fff" opacity="0.2" filter="url(#b54)"/>
<ellipse cx="749.5" cy="195.5" rx="4" ry="7" fill="#fff" opacity="0.7" filter="url(#b55)"/>
<ellipse cx="746.5" cy="217.5" rx="6" ry="5" fill="#fff" opacity="0.7" filter="url(#b56)"/>
<ellipse cx="732.5" cy="228.5" rx="5" ry="4" fill="#fff" opacity="0.65" filter="url(#b55)"/>
<g filter="url(#b57)" opacity="0.7"><ellipse cx="718" cy="257" rx="6" ry="3.5" transform="rotate(35 718 257)" fill="#fff"/></g>
<ellipse cx="732.5" cy="266.5" rx="6" ry="11" fill="#fff" opacity="0.65" filter="url(#b58)"/>
<ellipse cx="746.5" cy="248.5" rx="4" ry="5" fill="#fff" opacity="0.6" filter="url(#b55)"/>
<ellipse cx="772.5" cy="240.5" rx="4" ry="6" fill="#fff" opacity="0.65" filter="url(#b55)"/>
<ellipse cx="690.5" cy="235.5" rx="1.5" ry="8" fill="#fff" opacity="0.4" filter="url(#b59)"/>
<ellipse cx="758.5" cy="230.5" rx="3" ry="5" fill="#fff" opacity="0.5" filter="url(#b60)"/>
</g>
</g>
<rect x="763" y="287.5" width="25.5" height="8.25" fill="#fff"/>
<text transform="translate(674.88 214.53) scale(1.001 1.052)" font-family='"Liberation Serif", "Times New Roman", serif' font-weight="700" font-size="30" fill="#fff" stroke="#fff" stroke-width="0.3" stroke-linejoin="round">G</text>
<text transform="translate(676.41 181.14) scale(0.917 0.989)" font-family='"Liberation Serif", "Times New Roman", serif' font-weight="700" font-size="31" fill="#0a0a0a" stroke="#0a0a0a" stroke-width="0.3" stroke-linejoin="round">50<tspan font-style="italic" font-size="31.52" dx="3.78">%</tspan></text>
<g clip-path="url(#c61)">
<g filter="url(#t62)">
<rect x="409.5" y="431.75" width="129.75" height="122.75" fill="#646464"/>
<ellipse cx="417.5" cy="438.75" rx="10" ry="7" fill="#000" opacity="0.7" filter="url(#b63)"/>
<g filter="url(#b64)" opacity="0.45"><ellipse cx="479.5" cy="451.75" rx="9" ry="20" transform="rotate(15 479.5 451.75)" fill="#000"/></g>
<ellipse cx="489.5" cy="478.75" rx="10" ry="12" fill="#000" opacity="0.4" filter="url(#b64)"/>
<ellipse cx="425.5" cy="544.75" rx="17" ry="9" fill="#000" opacity="0.9" filter="url(#b65)"/>
<ellipse cx="471.5" cy="547.75" rx="17" ry="7" fill="#000" opacity="0.9" filter="url(#b63)"/>
<ellipse cx="517.5" cy="515.75" rx="12" ry="10" fill="#000" opacity="0.55" filter="url(#b64)"/>
<ellipse cx="532.5" cy="488.75" rx="4" ry="20" fill="#000" opacity="0.4" filter="url(#b63)"/>
<ellipse cx="436.5" cy="453.75" rx="20" ry="8" fill="#000" opacity="0.25" filter="url(#b64)"/>
<ellipse cx="503.5" cy="445.75" rx="14" ry="8" fill="#fff" opacity="0.4" filter="url(#b66)"/>
<ellipse cx="509.5" cy="468.75" rx="9" ry="5" fill="#fff" opacity="0.4" filter="url(#b63)"/>
<ellipse cx="453.5" cy="472.75" rx="9" ry="4" fill="#fff" opacity="0.4" filter="url(#b63)"/>
<ellipse cx="418.5" cy="489.75" rx="6" ry="5" fill="#fff" opacity="0.4" filter="url(#b63)"/>
<ellipse cx="463.5" cy="501.75" rx="15" ry="12" fill="#fff" opacity="0.45" filter="url(#b66)"/>
<ellipse cx="485.5" cy="517.75" rx="6" ry="5" fill="#fff" opacity="0.4" filter="url(#b63)"/>
<ellipse cx="429.5" cy="523.75" rx="14" ry="9" fill="#fff" opacity="0.3" filter="url(#b66)"/>
<ellipse cx="519.5" cy="531.75" rx="12" ry="6" fill="#fff" opacity="0.25" filter="url(#b66)"/>
</g>
<g filter="url(#s67)">
<rect x="409.5" y="431.75" width="129.75" height="122.75" fill="#fff" fill-opacity="0"/>
<ellipse cx="503.5" cy="445.75" rx="14" ry="8" fill="#fff" opacity="0.75" filter="url(#b65)"/>
<ellipse cx="509.5" cy="468.75" rx="9" ry="5" fill="#fff" opacity="0.75" filter="url(#b63)"/>
<ellipse cx="453.5" cy="472.75" rx="9" ry="4" fill="#fff" opacity="0.75" filter="url(#b68)"/>
<ellipse cx="418.5" cy="489.75" rx="6" ry="5" fill="#fff" opacity="0.75" filter="url(#b68)"/>
<ellipse cx="463.5" cy="501.75" rx="14" ry="12" fill="#fff" opacity="0.8" filter="url(#b66)"/>
<ellipse cx="485.5" cy="517.75" rx="6" ry="5" fill="#fff" opacity="0.75" filter="url(#b68)"/>
<ellipse cx="429.5" cy="523.75" rx="14" ry="9" fill="#fff" opacity="0.6" filter="url(#b66)"/>
<ellipse cx="519.5" cy="531.75" rx="12" ry="6" fill="#fff" opacity="0.55" filter="url(#b66)"/>
<ellipse cx="441.5" cy="538.75" rx="6" ry="5" fill="#fff" opacity="0.5" filter="url(#b63)"/>
</g>
</g>
<rect x="508" y="539.5" width="25.25" height="7.25" fill="#fff"/>
<text transform="translate(518 458.25) scale(0.935 1.01)" font-family='"Liberation Serif", "Times New Roman", serif' font-weight="700" font-size="30" fill="#fff" stroke="#fff" stroke-width="0.3" stroke-linejoin="round">I</text>
<text transform="translate(418.43 422.85) scale(0.949 0.956)" font-family='"Liberation Serif", "Times New Roman", serif' font-weight="700" font-size="31" fill="#0a0a0a" stroke="#0a0a0a" stroke-width="0.3" stroke-linejoin="round">3000</text>
</svg>
</body>
</html>
